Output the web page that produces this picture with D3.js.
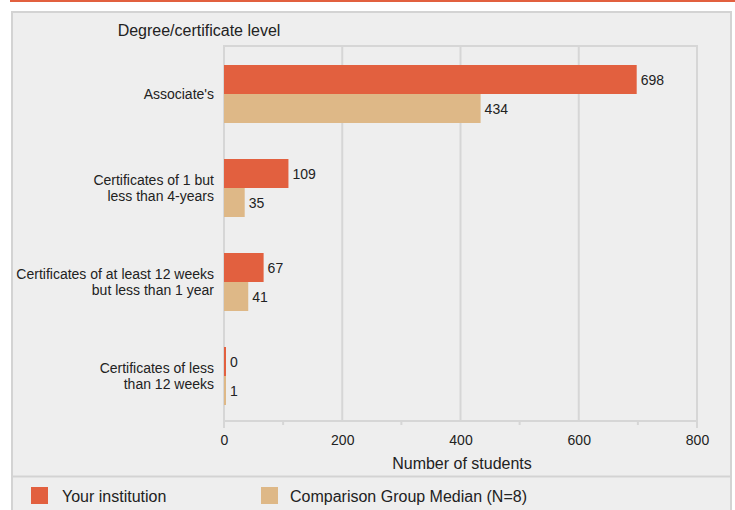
<!DOCTYPE html>
<html><head><meta charset="utf-8">
<script src="https://cdn.jsdelivr.net/npm/d3@7"></script>
<style>
html,body{margin:0;padding:0;background:#fff;}
svg{display:block;font-family:"Liberation Sans",Arial,sans-serif;}
</style></head>
<body>
<svg id="c" width="735" height="510"></svg>
<script>
const categories = [
  ["Associate's"],
  ["Certificates of 1 but", "less than 4-years"],
  ["Certificates of at least 12 weeks", "but less than 1 year"],
  ["Certificates of less", "than 12 weeks"]
];
const seriesNames = ["Your institution", "Comparison Group Median (N=8)"];
const yourInstitution = [698, 109, 67, 0];
const comparisonMedian = [434, 35, 41, 1];
const xTicks = [0, 200, 400, 600, 800];
const xMinorTicks = [100, 300, 500, 700];
const colors = ["#E2603F", "#DEB887"];

(function () {
const svg = d3.select("#c");
const txt = "#222";
const border = "#d3d3d3";

svg.append("rect").attr("x", 10).attr("y", 0).attr("width", 725).attr("height", 2).attr("fill", colors[0]);
svg.append("rect").attr("x", 12).attr("y", 12).attr("width", 719).attr("height", 500)
  .attr("fill", "#eeeeee").attr("stroke", border).attr("stroke-width", 2);
svg.append("line").attr("x1", 12).attr("x2", 731).attr("y1", 476.5).attr("y2", 476.5)
  .attr("stroke", border).attr("stroke-width", 2);

const pLeft = 224, pRight = 697, pTop = 46, axisY = 421;
const x = d3.scaleLinear().domain([0, 800]).range([pLeft, pRight]);
const idx = d3.range(categories.length);
const y = d3.scaleBand().domain(idx).range([47, 423]);
const barH = 29;
const ys = d3.scaleBand().domain([0, 1]).range([0, 2 * barH]);

const grid = "#d6d6d6";
svg.append("g").selectAll("line").data(xTicks.slice(1, -1)).join("line")
  .attr("x1", d => x(d)).attr("x2", d => x(d)).attr("y1", pTop).attr("y2", axisY)
  .attr("stroke", grid).attr("stroke-width", 2);
svg.append("line").attr("x1", pLeft).attr("x2", pRight).attr("y1", pTop).attr("y2", pTop).attr("stroke", grid).attr("stroke-width", 2);
svg.append("line").attr("x1", pLeft).attr("x2", pLeft).attr("y1", pTop - 1).attr("y2", 428).attr("stroke", grid).attr("stroke-width", 2);
svg.append("line").attr("x1", pRight).attr("x2", pRight).attr("y1", pTop - 1).attr("y2", 428).attr("stroke", grid).attr("stroke-width", 2);
svg.append("line").attr("x1", pLeft).attr("x2", pRight).attr("y1", axisY).attr("y2", axisY).attr("stroke", grid).attr("stroke-width", 2);
svg.append("g").selectAll("line").data(xMinorTicks).join("line")
  .attr("x1", d => x(d)).attr("x2", d => x(d)).attr("y1", axisY).attr("y2", axisY + 4)
  .attr("stroke", grid).attr("stroke-width", 2);

const ax = svg.append("g").attr("transform", `translate(0,${axisY})`)
  .call(d3.axisBottom(x).tickValues(xTicks).tickSize(0).tickPadding(14).tickFormat(d3.format("d")));
ax.select(".domain").remove();
ax.selectAll("text").attr("font-size", 14).attr("fill", txt).attr("font-family", "Liberation Sans, Arial, sans-serif");

svg.append("text").attr("x", 462).attr("y", 469).attr("text-anchor", "middle")
  .attr("font-size", 16).attr("fill", txt).text("Number of students");
svg.append("text").attr("x", 199).attr("y", 36).attr("text-anchor", "middle")
  .attr("font-size", 16).attr("fill", txt).text("Degree/certificate level");

const series = [yourInstitution, comparisonMedian];
series.forEach((vals, s) => {
  const g = svg.append("g");
  g.selectAll("rect").data(vals).join("rect")
    .attr("x", x(0))
    .attr("y", (d, i) => y(i) + y.bandwidth() / 2 - barH + ys(s))
    .attr("width", d => Math.max(x(d) - x(0), 2))
    .attr("height", barH)
    .attr("fill", colors[s]);
  g.selectAll("text").data(vals).join("text")
    .attr("x", d => Math.max(x(d), x(0) + 2) + 4)
    .attr("y", (d, i) => y(i) + y.bandwidth() / 2 - barH + ys(s) + barH / 2 + 5)
    .attr("font-size", 14).attr("fill", txt).text(d => d);
});

categories.forEach((lines, i) => {
  const cy = y(i) + y.bandwidth() / 2;
  const t = svg.append("text").attr("text-anchor", "end").attr("font-size", 14).attr("fill", txt);
  lines.forEach((ln, k) => {
    t.append("tspan").attr("x", 214)
      .attr("y", cy + 5 + (k - (lines.length - 1) / 2) * 16).text(ln);
  });
});

const lg = svg.append("g");
const lx = [31, 261];
const tx = [62, 290];
seriesNames.forEach((n, s) => {
  lg.append("rect").attr("x", lx[s]).attr("y", 487).attr("width", 17).attr("height", 17).attr("fill", colors[s]);
  lg.append("text").attr("x", tx[s]).attr("y", 501.5).attr("font-size", 16).attr("fill", txt).text(n);
});
})();
</script>
</body></html>
